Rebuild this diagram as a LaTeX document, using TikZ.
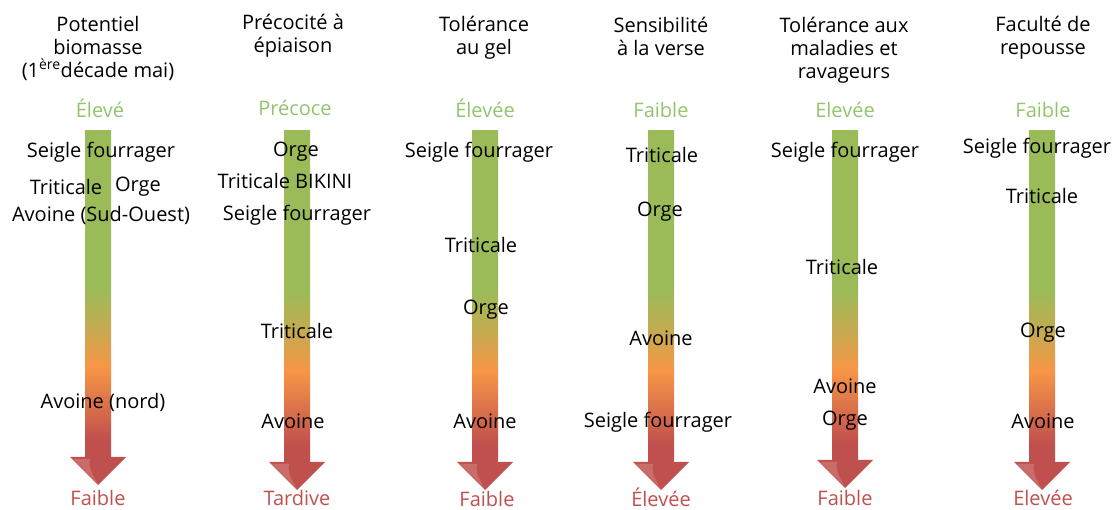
\documentclass[tikz,border=0pt]{standalone}
\usepackage{fontspec}
\setmainfont{Open Sans}
\definecolor{cG}{HTML}{9BBB59}
\definecolor{cGt}{HTML}{92C46E}
\definecolor{cO}{HTML}{F79646}
\definecolor{cR}{HTML}{C0504D}
\pgfdeclareverticalshading{shaftshade}{100bp}{color(0bp)=(cR); color(28bp)=(cR); color(39bp)=(cO); color(45bp)=(cG!55!cO); color(51bp)=(cG); color(100bp)=(cG)}
\newcommand\shaftarrow[2]{%
  \shade[shading=shaftshade] ({#1-13},131) rectangle ({#1+13},{#2+2});
  \fill[cR] ({#1-28},#2) -- ({#1+28},#2) -- (#1,{#2+28}) -- cycle;
  \fill[white,opacity=0.16] ({#1-25},{#2+2}) -- ({#1-8},{#2+2}) .. controls ({#1-10},{#2+10}) and ({#1-5},{#2+19}) .. (#1,{#2+27}) -- cycle;}
\begin{document}
\begin{tikzpicture}[x=1pt,y=-1pt,
  lbl/.style={font=\fontsize{20}{23}\selectfont, inner sep=0pt, align=center, text=black},
  top/.style={lbl, text=cGt},
  bot/.style={lbl, text=cR}]
\useasboundingbox (0,0) rectangle (1112,510);
% arrows
\shaftarrow{98}{457}
\shaftarrow{297}{462}
\shaftarrow{485}{462}
\shaftarrow{661}{462}
\shaftarrow{845}{460}
\shaftarrow{1042}{462}
% column 1
\node[lbl] (h1) at (98,48) {Potentiel\\biomasse\\(1\textsuperscript{ère}décade mai)};
\node[top] (t1) at (100,108) {Élevé};
\node[lbl] (a1) at (101,152) {Seigle fourrager};
\node[lbl] (b1) at (66,187) {Triticale};
\node[lbl] (c1) at (138,187) {Orge};
\node[lbl] (d1) at (101,215) {Avoine (Sud-Ouest)};
\node[lbl] (e1) at (103,402) {Avoine (nord)};
\node[bot] (f1) at (98,498) {Faible};
% column 2
\node[lbl] (h2) at (293,36) {Précocité à\\épiaison};
\node[top] (t2) at (295,108) {Précoce};
\node[lbl] (a2) at (296,152) {Orge};
\node[lbl] (b2) at (285,181) {Triticale BIKINI};
\node[lbl] (c2) at (297,215) {Seigle fourrager};
\node[lbl] (d2) at (297,331) {Triticale};
\node[lbl] (e2) at (293,421) {Avoine};
\node[bot] (f2) at (297,498) {Tardive};
% column 3
\node[lbl] (h3) at (484,38) {Tolérance\\au gel};
\node[top] (t3) at (485,108) {Élevée};
\node[lbl] (a3) at (479,152) {Seigle fourrager};
\node[lbl] (b3) at (481,245) {Triticale};
\node[lbl] (c3) at (486,310) {Orge};
\node[lbl] (d3) at (485,421) {Avoine};
\node[bot] (f3) at (487,499) {Faible};
% column 4
\node[lbl] (h4) at (661,36) {Sensibilité\\à la verse};
\node[top] (t4) at (661,110) {Faible};
\node[lbl] (a4) at (662,155) {Triticale};
\node[lbl] (b4) at (660,212) {Orge};
\node[lbl] (c4) at (661,338) {Avoine};
\node[lbl] (d4) at (658,422) {Seigle fourrager};
\node[bot] (f4) at (661,497) {Élevée};
% column 5
\node[lbl] (h5) at (844,50) {Tolérance aux\\maladies et\\ravageurs};
\node[top] (t5) at (845,110) {Elevée};
\node[lbl] (a5) at (845,152) {Seigle fourrager};
\node[lbl] (b5) at (842,267) {Triticale};
\node[lbl] (c5) at (845,386) {Avoine};
\node[lbl] (d5) at (845,421) {Orge};
\node[bot] (f5) at (845,498) {Faible};
% column 6
\node[lbl] (h6) at (1043,38) {Faculté de\\repousse};
\node[top] (t6) at (1043,110) {Faible};
\node[lbl] (a6) at (1037,148) {Seigle fourrager};
\node[lbl] (b6) at (1042,196) {Triticale};
\node[lbl] (c6) at (1043,333) {Orge};
\node[lbl] (d6) at (1043,421) {Avoine};
\node[bot] (f6) at (1043,498) {Elevée};
\end{tikzpicture}
\end{document}
